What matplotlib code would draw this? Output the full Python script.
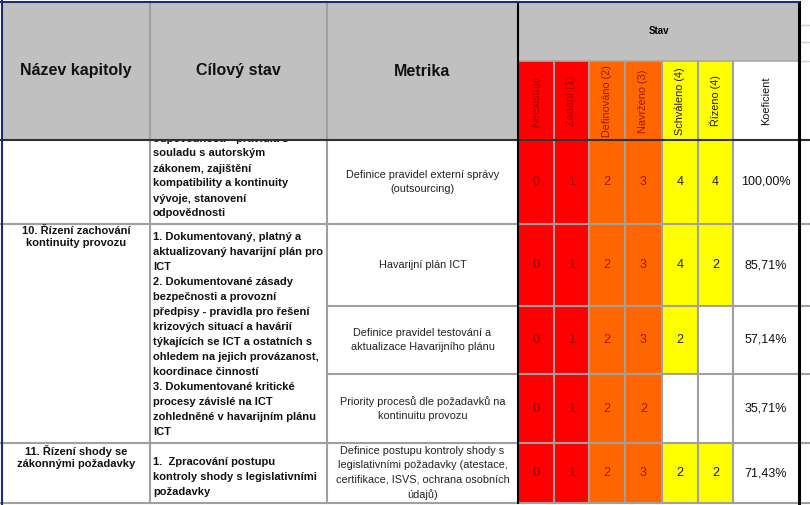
import matplotlib.pyplot as plt
from matplotlib.patches import Rectangle

# data
header_main = ['Název kapitoly', 'Cílový stav', 'Metrika']
stav_title = 'Stav'
level_names = ['Neexistuje', 'Zadání (1)', 'Definováno (2)', 'Navrženo (3)',
               'Schváleno (4)', 'Řízeno (4)']
coef_name = 'Koeficient'

chapters = ['', '10. Řízení zachování\nkontinuity provozu', '', '',
            '11. Řízení shody se\nzákonnými požadavky']
goal_top = ['odpovědnosti - pravidla s', 'souladu s autorským', 'zákonem, zajištění',
            'kompatibility a kontinuity', 'vývoje, stanovení', 'odpovědnosti']
goal_10 = ['1. Dokumentovaný, platný a', 'aktualizovaný havarijní plán pro', 'ICT',
           '2. Dokumentované zásady', 'bezpečnosti a provozní',
           'předpisy - pravidla pro řešení', 'krizových situací a havárií',
           'týkajících se ICT a ostatních s', 'ohledem na jejich provázanost,',
           'koordinace činností', '3. Dokumentované kritické',
           'procesy závislé na ICT', 'zohledněné v havarijním plánu', 'ICT']
goal_11 = ['1.  Zpracování postupu', 'kontroly shody s legislativními', 'požadavky']
metrics = ['Definice pravidel externí správy\n(outsourcing)',
           'Havarijní plán ICT',
           'Definice pravidel testování a\naktualizace Havarijního plánu',
           'Priority procesů dle požadavků na\nkontinuitu provozu',
           'Definice postupu kontroly shody s\nlegislativními požadavky (atestace,\ncertifikace, ISVS, ochrana osobních\núdajů)']
levels = [[0, 1, 2, 3, 4, 4],
          [0, 1, 2, 3, 4, 2],
          [0, 1, 2, 3, 2, None],
          [0, 1, 2, 2, None, None],
          [0, 1, 2, 3, 2, 2]]
coefs = ['100,00%', '85,71%', '57,14%', '35,71%', '71,43%']

# layout (pixels)
xs = [2, 150, 327, 518, 554, 589, 625, 662, 698, 733, 799]
ys = [140, 224, 306, 374, 443, 503]
col_colors = ['#FF0000', '#FF0000', '#FF6600', '#FF6600', '#FFFF00', '#FFFF00']
txt_colors = ['#9A0000', '#9A0000', '#9A1A00', '#9A1A00', '#202020', '#202020']
grey = '#C0C0C0'
line = '#A0A0A0'
FONT = 'Liberation Sans'

fig = plt.figure(figsize=(8.1, 5.05), dpi=100)
ax = fig.add_axes([0, 0, 1, 1])
ax.set_xlim(0, 810)
ax.set_ylim(505, 0)
ax.axis('off')

def box(x0, y0, x1, y1, color):
    ax.add_patch(Rectangle((x0, y0), x1 - x0, y1 - y0, facecolor=color, edgecolor='none'))

# header
box(2, 2, xs[3], ys[0], grey)
box(xs[3], 2, xs[-1], 61, grey)
for i in range(3):
    ax.text((xs[i] + xs[i + 1]) / 2, 71, header_main[i], ha='center', va='center',
            fontsize=11.5, fontweight='bold', family=FONT, color='#111111')
ax.text((xs[3] + xs[-1]) / 2, 31, stav_title, ha='center', va='center',
        fontsize=7, fontweight='bold', family=FONT)
for j, name in enumerate(level_names):
    box(xs[3 + j], 61, xs[4 + j], ys[0], col_colors[j])
    ax.text((xs[3 + j] + xs[4 + j]) / 2, 101, name, rotation=90, ha='center', va='center',
            fontsize=7.8, family=FONT, color=txt_colors[j])
ax.text((xs[9] + xs[10]) / 2, 101, coef_name, rotation=90, ha='center', va='center',
        fontsize=7.8, family=FONT, color='#111111')

# body cells
for r, vals in enumerate(levels):
    y0, y1 = ys[r], ys[r + 1]
    yc = (y0 + y1) / 2
    for j, v in enumerate(vals):
        if v is None:
            continue
        box(xs[3 + j], y0, xs[4 + j], y1, col_colors[j])
        ax.text((xs[3 + j] + xs[4 + j]) / 2, yc, str(v), ha='center', va='center',
                fontsize=9, family=FONT, color=txt_colors[j])
    ax.text((xs[9] + xs[10]) / 2, yc, coefs[r], ha='center', va='center',
            fontsize=9, family=FONT, color='#111111')
    ax.text((xs[2] + xs[3]) / 2, yc, metrics[r], ha='center', va='center',
            fontsize=7.8, family=FONT, color='#222222', linespacing=1.5)
    if chapters[r]:
        ax.text((xs[0] + xs[1]) / 2, y0 + 2, chapters[r], ha='center', va='top',
                fontsize=8, fontweight='bold', family=FONT, color='#111111', linespacing=1.3)

# goal texts, clipped to the body area
clip = Rectangle((xs[1], ys[0] + 1), xs[2] - xs[1], ys[-1] - ys[0], transform=ax.transData)
def goal(lines, y_first):
    for k, t in enumerate(lines):
        tx = ax.text(xs[1] + 3, y_first + 15 * k, t, ha='left', va='center',
                     fontsize=8.0, fontweight='bold', family=FONT, color='#111111',
                     clip_on=True)
        tx.set_clip_path(clip)

goal(goal_top, 138.5)
goal(goal_10, 237)
goal(goal_11, 462)

# grid lines
for x in xs[4:10]:
    ax.plot([x, x], [61, ys[-1]], color=line, lw=1.5)
ax.plot([xs[3], xs[-1]], [61, 61], color='#A8A8A8', lw=1.2)
ax.plot([xs[1], xs[1]], [2, ys[-1]], color=line, lw=1.5)
ax.plot([xs[2], xs[2]], [2, ys[-1]], color=line, lw=1.5)
for k, y in enumerate(ys[1:]):
    if k in (1, 2):
        ax.plot([xs[2], 810], [y, y], color=line, lw=1.5)
    else:
        ax.plot([0, 810], [y, y], color=line, lw=1.5)
ax.plot([0, 810], [ys[0], ys[0]], color='#303030', lw=1.5)
for y in [25, 42, 61]:
    ax.plot([800, 810], [y, y], color='#D0D0D0', lw=1)
ax.plot([xs[3], xs[3]], [2, ys[-1]], color='black', lw=1.5)
ax.plot([xs[-1], xs[-1]], [2, 505], color='black', lw=2.2)
ax.plot([2, 2], [0, 505], color='#1F2A70', lw=1.5)
ax.plot([0, xs[-1]], [2, 2], color='#1F2A70', lw=1.5)

fig.savefig('out.png', dpi=100)
